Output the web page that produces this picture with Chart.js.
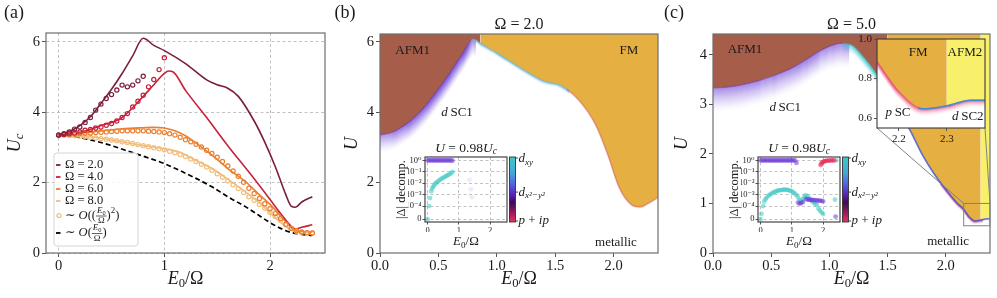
<!DOCTYPE html>
<html>
<head>
<meta charset="utf-8">
<script src="https://cdn.jsdelivr.net/npm/chart.js@4.4.1/dist/chart.umd.min.js"></script>
<style>
  html, body { margin: 0; padding: 0; background: #fff; }
  #fig { position: relative; width: 997px; height: 298px; overflow: hidden; background: #fff; }
  #fig canvas { position: absolute; }
</style>
</head>
<body>
<div id="fig"></div>
<script>
// ---------- panel (a): U_c against E0/Omega ----------
const omega2X = [0, 0.1, 0.2, 0.3, 0.4, 0.5, 0.6, 0.7, 0.8, 0.9, 1.0, 1.2, 1.4, 1.5, 1.6, 1.7, 1.85, 1.95, 2.05, 2.15, 2.2, 2.24, 2.3, 2.4]
const omega2Y = [3.35, 3.45, 3.62, 3.87, 4.25, 4.65, 5.1, 5.6, 6.1, 5.9, 5.75, 5.38, 4.92, 4.78, 4.68, 4.45, 3.75, 3.15, 2.45, 1.65, 1.33, 1.3, 1.45, 1.6]
const omega4X = [0, 0.2, 0.4, 0.6, 0.8, 0.9, 1.0, 1.04, 1.08, 1.2, 1.4, 1.6, 1.8, 2.0, 2.1, 2.2, 2.24, 2.3, 2.4]
const omega4Y = [3.35, 3.43, 3.62, 3.85, 4.45, 4.78, 5.1, 5.17, 5.15, 4.62, 3.85, 3.05, 2.3, 1.52, 1.12, 0.76, 0.68, 0.73, 0.8]
const omega6X = [0, 0.2, 0.4, 0.6, 0.8, 0.9, 1.0, 1.1, 1.2, 1.3, 1.45, 1.6, 1.77, 1.9, 2.0, 2.12, 2.23, 2.3, 2.4]
const omega6Y = [3.35, 3.4, 3.47, 3.53, 3.56, 3.57, 3.55, 3.47, 3.33, 3.12, 2.78, 2.4, 2.02, 1.65, 1.38, 0.98, 0.65, 0.61, 0.6]
const omega8X = [0, 0.2, 0.4, 0.6, 0.8, 1.0, 1.14, 1.3, 1.45, 1.6, 1.77, 1.9, 1.99, 2.12, 2.23, 2.3, 2.4]
const omega8Y = [3.35, 3.33, 3.26, 3.16, 3.05, 2.96, 2.87, 2.63, 2.4, 2.1, 1.73, 1.42, 1.17, 0.82, 0.62, 0.61, 0.6]
const firstOrderX = [0, 0.16, 0.32, 0.47, 0.63, 0.82, 1.0, 1.14, 1.3, 1.45, 1.6, 1.77, 1.9, 1.99, 2.1, 2.18, 2.3, 2.4]
const firstOrderY = [3.35, 3.3, 3.2, 3.08, 2.92, 2.73, 2.54, 2.35, 2.12, 1.88, 1.6, 1.31, 1.06, 0.88, 0.7, 0.6, 0.53, 0.5]
// second order markers, sampled on a common E0/Omega grid
const circX = [0, 0.05, 0.1, 0.15, 0.2, 0.25, 0.3, 0.35, 0.4, 0.45, 0.5, 0.55, 0.6, 0.65, 0.7, 0.75, 0.8, 0.85, 0.9, 0.95, 1.0, 1.05, 1.1, 1.15, 1.2, 1.25, 1.3, 1.35, 1.4, 1.45, 1.5, 1.55, 1.6, 1.65, 1.7, 1.75, 1.8, 1.85, 1.9, 1.95, 2.0, 2.05, 2.1, 2.15, 2.2, 2.25, 2.3, 2.35, 2.4]
const circ2Y = [3.35, 3.39, 3.44, 3.52, 3.58, 3.71, 3.85, 4.06, 4.23, 4.39, 4.5, 4.63, 4.77, 4.72, 4.77, 4.89, 5.02]
const circ4Y = [3.35, 3.37, 3.39, 3.41, 3.44, 3.49, 3.51, 3.55, 3.58, 3.63, 3.68, 3.75, 3.85, 3.96, 4.15, 4.31, 4.48, 4.72, 4.93, 5.21, 5.55]
const circ6Y = [3.35, 3.36, 3.37, 3.38, 3.39, 3.4, 3.41, 3.42, 3.43, 3.44, 3.45, 3.46, 3.47, 3.47, 3.47, 3.47, 3.47, 3.46, 3.45, 3.44, 3.42, 3.39, 3.35, 3.29, 3.22, 3.16, 3.09, 3.01, 2.92, 2.83, 2.72, 2.6, 2.47, 2.33, 2.18, 2.01, 1.84, 1.69, 1.55, 1.4, 1.26, 1.12, 0.98, 0.82, 0.7, 0.63, 0.6, 0.58, 0.57]
const circ8Y = [3.35, 3.35, 3.34, 3.33, 3.32, 3.31, 3.29, 3.27, 3.25, 3.23, 3.21, 3.19, 3.16, 3.14, 3.11, 3.08, 3.05, 3.02, 2.99, 2.96, 2.93, 2.89, 2.85, 2.8, 2.74, 2.67, 2.6, 2.52, 2.44, 2.35, 2.25, 2.15, 2.05, 1.94, 1.83, 1.72, 1.6, 1.5, 1.38, 1.27, 1.15, 1.04, 0.92, 0.8, 0.7, 0.62, 0.59, 0.57, 0.57]
const legendLabels = ['Ω = 2.0', 'Ω = 4.0', 'Ω = 6.0', 'Ω = 8.0']

// ---------- panel (b): phase boundary, Omega = 2 ----------
const phaseBX = [0, 0.1, 0.2, 0.3, 0.4, 0.5, 0.6, 0.7, 0.8, 0.86, 1.0, 1.2, 1.4, 1.55, 1.7, 1.85, 1.95, 2.05, 2.15, 2.23, 2.3, 2.38]
const phaseBY = [3.35, 3.42, 3.6, 3.86, 4.22, 4.65, 5.12, 5.62, 6.07, 5.95, 5.68, 5.26, 4.88, 4.75, 4.35, 3.62, 2.8, 1.85, 1.38, 1.31, 1.42, 1.58]
const afmFmB = 0.86

// ---------- panel (c): phase boundary, Omega = 5 ----------
const phaseCX = [0, 0.1, 0.2, 0.3, 0.4, 0.5, 0.6, 0.7, 0.8, 0.9, 1.0, 1.1, 1.15, 1.2, 1.3, 1.4, 1.5, 1.6, 1.7, 1.8, 1.9, 2.0, 2.1, 2.154, 2.171, 2.2, 2.25, 2.3, 2.35, 2.38]
const phaseCY = [3.33, 3.34, 3.37, 3.42, 3.48, 3.56, 3.65, 3.76, 3.9, 4.05, 4.17, 4.23, 4.22, 4.18, 3.93, 3.62, 3.25, 2.88, 2.45, 1.98, 1.6, 1.28, 1.0, 0.885, 0.825, 0.733, 0.647, 0.662, 0.69, 0.69]
const afmFmC = 1.5, fmAfm2C = 2.3
const zoomX = [2.154, 2.38], zoomY = [0.55, 1.0]

// ---------- insets: |Delta| decomposition at U = 0.98 U_c ----------
const bDx2X = [0, 0.05, 0.1, 0.15, 0.2, 0.25, 0.3, 0.35, 0.4, 0.45, 0.5, 0.55, 0.6, 0.65, 0.7, 0.75, 0.8]
const bDx2V = [1, 1, 1, 1, 1, 1, 1, 1, 1, 1, 1, 1, 1, 1, 1, 1, 0.95]
const bDxyX = [0, 0.05, 0.08, 0.12, 0.15, 0.18, 0.22, 0.26, 0.3, 0.35, 0.4, 0.45, 0.5, 0.55, 0.6, 0.65, 0.7, 0.75, 0.8]
const bDxyV = [0, 1e-4, 5e-4, 2e-3, 3.5e-3, 5e-3, 7e-3, 0.01, 0.012, 0.016, 0.02, 0.025, 0.03, 0.036, 0.043, 0.05, 0.06, 0.075, 0.1]
const bFaintX = [1.34, 1.38, 1.42]
const bFaintV = [0.02, 3e-3, 6e-4]

const cDx2X = [0, 0.05, 0.1, 0.15, 0.2, 0.25, 0.3, 0.35, 0.4, 0.45, 0.5, 0.55, 0.6, 0.65, 0.7, 0.75, 0.8, 0.85, 0.9, 0.95, 1.0, 1.05, 1.1, 1.15, 1.2, 1.25, 1.3, 1.35, 1.45, 1.5, 1.55, 1.6, 1.65, 1.7, 1.75, 1.8, 1.85, 1.9, 1.95, 2.0, 2.4]
const cDx2V = [1, 1, 1, 1, 1, 1, 1, 1, 1, 1, 1, 1, 1, 1, 1, 1, 1, 1, 1, 1, 1, 1, 1, 0.6, 2e-4, 1.6e-4, 1.8e-4, 2.2e-4, 4e-4, 3.8e-4, 3.6e-4, 3.5e-4, 3.4e-4, 3.3e-4, 3.2e-4, 3.1e-4, 3e-4, 3e-4, 2.8e-4, 2.6e-4, 0.2e-4]
const cDxyX = [0, 0.03, 0.08, 0.12, 0.16, 0.2, 0.25, 0.3, 0.35, 0.4, 0.45, 0.5, 0.55, 0.6, 0.65, 0.7, 0.75, 0.8, 0.85, 0.9, 0.95, 1.0, 1.05, 1.1, 1.15, 1.2, 1.25, 1.3, 1.35, 1.4, 1.45, 1.5, 1.55, 1.6, 1.65, 1.7, 1.75, 1.8, 1.85, 1.9, 1.95, 2.0, 2.38, 2.42]
const cDxyV = [0, 0.4e-4, 1e-4, 2.5e-4, 4e-4, 5.5e-4, 8e-4, 1e-3, 1.25e-3, 1.5e-3, 1.7e-3, 2e-3, 2.2e-3, 2.4e-3, 2.5e-3, 2.6e-3, 2.7e-3, 2.7e-3, 2.6e-3, 2.5e-3, 2.2e-3, 1.9e-3, 1.6e-3, 1.25e-3, 9e-4, 5.6e-4, 3.5e-4, 2.5e-4, 4e-4, 6.3e-4, 9e-4, 7e-4, 5e-4, 3.5e-4, 2.5e-4, 2e-4, 1.6e-4, 1.25e-4, 0.8e-4, 0.65e-4, 0.52e-4, 0.4e-4, 3.7e-4, 1]
const cPipX = [1.92, 1.95, 1.98, 2.02, 2.06, 2.1, 2.15, 2.2, 2.25, 2.3, 2.35]
const cPipV = [0.4, 0.55, 0.7, 0.8, 0.88, 0.92, 0.95, 0.97, 1, 1, 1]

// ---------- ticks ----------
const aTicksX = [0, 1, 2], aTicksY = [0, 2, 4, 6]
const phaseTicksX = [0, 0.5, 1, 1.5, 2]
const bTicksY = [0, 2, 4, 6], cTicksY = [0, 1, 2, 3, 4]
const zoomTicksX = [2.2, 2.3], zoomTicksY = [0.6, 0.8, 1.0]
const insetTicksX = [0, 1, 2]
const decompTicks = [0, 1e-4, 1e-3, 1e-2, 1e-1, 1]
const decompLabels = ['0', '10⁻⁴', '10⁻³', '10⁻²', '10⁻¹', '10⁰']

// ---------- look ----------
const SERIF = '"Liberation Serif", "DejaVu Serif", serif'
const INK = '#1a1a1a'
const OMEGA_COLORS = ['#7a1e3d', '#c8213b', '#ec7f2f', '#f1bd7d']
const AFM1 = '#a65d4a', FM = '#e5b041', AFM2 = '#f8f06a'
const PURPLE = 'rgba(112, 58, 214, 0.55)', CYAN = 'rgba(60, 200, 196, 0.55)', RED = 'rgba(232, 44, 88, 0.6)'

const fig = document.getElementById('fig')
const pts = (xs, ys) => ys.map((y, i) => ({x: xs[i], y}))
const between = (xs, ys, lo, hi) => pts(xs, ys).filter(p => p.x >= lo && p.x <= hi)
// symmetric-log style mapping used by the inset y axes
const symlog = v => v <= 0 ? 0 : v < 1e-4 ? 1.15 * v / 1e-4 : 5.15 + Math.log10(v)
const logPts = (xs, vs) => vs.map((v, i) => ({x: xs[i], y: symlog(v)}))

// rich text: runs of roman / italic / sub / sup / fractions
const R = t => ({t}), I = t => ({t, it: true})
const SUB = t => ({t, it: true, sub: true}), SUBR = t => ({t, sub: true}), SUP = t => ({t, sup: true})
const runFont = (p, size) => (p.it ? 'italic ' : '') + ((p.sub || p.sup) ? size * 0.7 : size).toFixed(1) + 'px ' + SERIF
function runWidth(ctx, parts, size) {
  let w = 0
  for (const p of parts) {
    if (p.frac) w += Math.max(runWidth(ctx, p.frac[0], size * 0.72), runWidth(ctx, p.frac[1], size * 0.72)) + 2
    else { ctx.font = runFont(p, size); w += ctx.measureText(p.t).width }
  }
  return w
}
function rich(ctx, parts, x, y, size, align = 'center', rot = 0, color = INK) {
  ctx.save()
  ctx.translate(x, y)
  if (rot) ctx.rotate(rot)
  const w = runWidth(ctx, parts, size)
  let cx = align === 'left' ? 0 : align === 'right' ? -w : -w / 2
  ctx.fillStyle = color; ctx.strokeStyle = color
  ctx.textAlign = 'left'; ctx.textBaseline = 'middle'
  for (const p of parts) {
    if (p.frac) {
      const s = size * 0.72
      const fw = Math.max(runWidth(ctx, p.frac[0], s), runWidth(ctx, p.frac[1], s)) + 2
      rich(ctx, p.frac[0], cx + fw / 2, -s * 0.55, s, 'center', 0, color)
      rich(ctx, p.frac[1], cx + fw / 2, s * 0.62, s, 'center', 0, color)
      ctx.lineWidth = 0.7
      ctx.beginPath(); ctx.moveTo(cx, 0.5); ctx.lineTo(cx + fw, 0.5); ctx.stroke()
      cx += fw
    } else {
      ctx.font = runFont(p, size)
      ctx.fillText(p.t, cx, p.sub ? size * 0.28 : p.sup ? -size * 0.36 : 0)
      cx += ctx.measureText(p.t).width
    }
  }
  ctx.restore()
}
const E0_OMEGA = [I('E'), SUBR('0'), R('/Ω')]

function axis(min, max, ticks, o = {}) {
  const labels = o.labels
  return {
    type: 'linear', min, max,
    afterBuildTicks: s => { s.ticks = ticks.map(value => ({value})) },
    ticks: {
      font: {family: SERIF, size: o.size || 14.5}, color: INK, padding: o.pad ?? 2,
      autoSkip: false, maxRotation: 0,
      callback: (v, i) => labels ? labels[i] : (o.fmt ? o.fmt(v) : String(v))
    },
    grid: {display: true, drawOnChartArea: !!o.grid, color: '#b4b4b4', lineWidth: 0.8,
      tickLength: o.tick || 4, tickColor: '#555', tickWidth: 1},
    border: {display: false, dash: o.grid ? [3, 2.5] : []}
  }
}

function mount(cv, box, yW, xH, config) {
  const c = document.createElement('canvas')
  c.width = cv.w; c.height = cv.h
  Object.assign(c.style, {left: cv.x + 'px', top: cv.y + 'px', width: cv.w + 'px', height: cv.h + 'px'})
  fig.appendChild(c)
  const o = config.options
  Object.assign(o, {responsive: false, animation: false, devicePixelRatio: 1, events: []})
  o.layout = {padding: {left: box.l - cv.x - yW, top: box.t - cv.y, right: cv.x + cv.w - box.r, bottom: cv.y + cv.h - box.b - xH}}
  o.scales.x.afterFit = s => { s.height = xH }
  o.scales.y.afterFit = s => { s.width = yW }
  o.plugins = Object.assign({legend: {display: false}, tooltip: {enabled: false}}, o.plugins || {})
  return new Chart(c, config)
}

const frame = (color = '#6e6e6e', width = 1.2) => ({
  id: 'frame',
  afterDraw(chart) {
    const a = chart.chartArea, ctx = chart.ctx
    ctx.save(); ctx.strokeStyle = color; ctx.lineWidth = width
    ctx.strokeRect(a.left, a.top, a.right - a.left, a.bottom - a.top)
    ctx.restore()
  }
})
const whiteArea = {
  id: 'whiteArea',
  beforeDraw(chart) {
    const a = chart.chartArea, ctx = chart.ctx
    ctx.save(); ctx.fillStyle = '#fff'; ctx.fillRect(a.left, a.top, a.right - a.left, a.bottom - a.top); ctx.restore()
  }
}
// fading coloured band hanging below the phase boundary
function bands(refIndex, list) {
  return {
    id: 'bands',
    afterDatasetsDraw(chart) {
      const el = chart.getDatasetMeta(refIndex).data
      const {ctx, chartArea: a, scales: {x}} = chart
      for (const b of list) {
        const x0 = Math.max(a.left, x.getPixelForValue(b.from)), x1 = Math.min(a.right, x.getPixelForValue(b.to))
        if (x1 <= x0) continue
        ctx.save()
        ctx.beginPath(); ctx.rect(x0, a.top, x1 - x0, a.bottom - a.top); ctx.clip()
        ctx.strokeStyle = b.color; ctx.lineWidth = b.width || 1.5
        for (let k = b.depth; k >= 0; k--) {
          ctx.globalAlpha = b.alpha * Math.pow(1 - k / (b.depth + 1), b.pow || 2)
          ctx.beginPath()
          el.forEach((p, i) => {
            if (!i) return ctx.moveTo(p.x, p.y + k)
            const q = el[i - 1]
            if (q.cp2x != null && p.cp1x != null) ctx.bezierCurveTo(q.cp2x, q.cp2y + k, p.cp1x, p.cp1y + k, p.x, p.y + k)
            else ctx.lineTo(p.x, p.y + k)
          })
          ctx.stroke()
        }
        ctx.restore()
      }
    }
  }
}

const lineDs = (data, color, extra) => Object.assign({data, borderColor: color, borderWidth: 1.6, pointRadius: 0, fill: false, cubicInterpolationMode: 'monotone'}, extra)
const ringDs = (data, color) => ({data, showLine: false, pointRadius: 2.1, pointBorderWidth: 1.2, pointBorderColor: color, pointBackgroundColor: 'rgba(0,0,0,0)'})
const fillDs = (data, color) => ({data, fill: 'end', backgroundColor: color, borderColor: color, borderWidth: 0.5, pointRadius: 0, cubicInterpolationMode: 'monotone'})
const refDs = data => ({data, fill: false, borderColor: 'rgba(0,0,0,0)', borderWidth: 1, pointRadius: 0, cubicInterpolationMode: 'monotone'})
const dotDs = (data, color) => ({data, showLine: false, pointRadius: 2.4, pointBorderWidth: 0, pointBackgroundColor: color})

// ================= panel (a) =================
mount({x: 0, y: 0, w: 345, h: 298}, {l: 46, t: 33, r: 325, b: 253}, 28, 18, {
  type: 'line',
  data: {datasets: [
    ringDs(pts(circX, circ2Y), OMEGA_COLORS[0]),
    ringDs(pts(circX, circ4Y), OMEGA_COLORS[1]),
    ringDs(pts(circX, circ6Y), OMEGA_COLORS[2]),
    ringDs(pts(circX, circ8Y), OMEGA_COLORS[3]),
    lineDs(pts(omega2X, omega2Y), OMEGA_COLORS[0]),
    lineDs(pts(omega4X, omega4Y), OMEGA_COLORS[1]),
    lineDs(pts(omega6X, omega6Y), OMEGA_COLORS[2]),
    lineDs(pts(omega8X, omega8Y), OMEGA_COLORS[3]),
    lineDs(pts(firstOrderX, firstOrderY), '#000', {borderDash: [5, 3], borderWidth: 1.7})
  ]},
  options: {scales: {x: axis(-0.12, 2.52, aTicksX, {grid: true, pad: 0}), y: axis(0, 6.25, aTicksY, {grid: true})}},
  plugins: [frame(), {
    id: 'decoA',
    afterDraw(chart) {
      const ctx = chart.ctx, a = chart.chartArea
      rich(ctx, [R('(a)')], 14, 13, 18)
      rich(ctx, [I('U'), SUB('c')], 15, (a.top + a.bottom) / 2, 18, 'center', -Math.PI / 2)
      rich(ctx, E0_OMEGA, (a.left + a.right) / 2, 279, 18)
      // legend
      ctx.save()
      ctx.fillStyle = 'rgba(255,255,255,0.85)'; ctx.strokeStyle = '#d4d4d4'; ctx.lineWidth = 1
      ctx.beginPath(); ctx.roundRect(54, 153, 84, 93, 3); ctx.fill(); ctx.stroke()
      const rows = [165, 177, 189, 201, 215.5, 233]
      OMEGA_COLORS.forEach((c, i) => {
        ctx.strokeStyle = c; ctx.lineWidth = 1.8
        ctx.beginPath(); ctx.moveTo(56, rows[i]); ctx.lineTo(60.5, rows[i]); ctx.stroke()
        rich(ctx, [R(legendLabels[i])], 65, rows[i], 12.5, 'left')
      })
      ctx.strokeStyle = OMEGA_COLORS[3]; ctx.lineWidth = 1.2
      ctx.beginPath(); ctx.arc(59, rows[4], 2, 0, Math.PI * 2); ctx.stroke()
      const frac = {frac: [[I('E'), SUBR('0')], [R('Ω')]]}
      rich(ctx, [R('∼ '), I('O'), R('(('), frac, R(')'), SUP('2'), R(')')], 65, rows[4], 12.5, 'left')
      ctx.strokeStyle = '#000'; ctx.lineWidth = 1.8
      ctx.beginPath(); ctx.moveTo(56, rows[5]); ctx.lineTo(60.5, rows[5]); ctx.stroke()
      rich(ctx, [R('∼ '), I('O'), R('('), frac, R(')')], 65, rows[5], 12.5, 'left')
      ctx.restore()
    }
  }]
})

// ================= panel (b) =================
mount({x: 330, y: 0, w: 335, h: 298}, {l: 380, t: 34, r: 658, b: 253}, 24, 18, {
  type: 'line',
  data: {datasets: [
    refDs(pts(phaseBX, phaseBY)),
    fillDs(between(phaseBX, phaseBY, 0, afmFmB), AFM1),
    fillDs(between(phaseBX, phaseBY, afmFmB, 2.4), FM)
  ]},
  options: {scales: {
    x: axis(0, 2.38, phaseTicksX, {fmt: v => v.toFixed(1), pad: 0}),
    y: axis(0, 6.22, bTicksY)
  }},
  plugins: [bands(0, [
    {from: 0, to: 0.82, color: '#5a2ad2', depth: 18, alpha: 0.45, pow: 1.6},
    {from: 0.78, to: 1.62, color: '#6cb6d8', depth: 3, alpha: 0.7},
    {from: 1.6, to: 2.4, color: '#c84070', depth: 1, alpha: 0.35}
  ]), frame(), {
    id: 'decoB',
    afterDraw(chart) {
      const ctx = chart.ctx, a = chart.chartArea, {x, y} = chart.scales
      rich(ctx, [R('(b)')], 15, 13, 18)
      rich(ctx, [R('Ω = 2.0')], (a.left + a.right) / 2, 25, 16)
      rich(ctx, [I('U')], 22, (a.top + a.bottom) / 2, 18, 'center', -Math.PI / 2)
      rich(ctx, E0_OMEGA, (a.left + a.right) / 2, 279, 18)
      rich(ctx, [R('AFM1')], x.getPixelForValue(0.28), y.getPixelForValue(5.76), 13)
      rich(ctx, [R('FM')], x.getPixelForValue(2.13), y.getPixelForValue(5.76), 13)
      rich(ctx, [I('d'), R('\u2009SC1')], x.getPixelForValue(0.66), y.getPixelForValue(4.0), 13)
      rich(ctx, [R('metallic')], x.getPixelForValue(2.02), y.getPixelForValue(0.3), 13)
    }
  }]
})

// ================= panel (c) =================
const ZBOX = {l: 877, t: 39, r: 985, b: 128}
mount({x: 660, y: 0, w: 337, h: 298}, {l: 713, t: 34, r: 990, b: 253}, 24, 18, {
  type: 'line',
  data: {datasets: [
    refDs(pts(phaseCX, phaseCY)),
    fillDs(between(phaseCX, phaseCY, 0, afmFmC), AFM1),
    fillDs(between(phaseCX, phaseCY, afmFmC, fmAfm2C), FM),
    fillDs(between(phaseCX, phaseCY, fmAfm2C, 2.4), AFM2)
  ]},
  options: {scales: {
    x: axis(0, 2.38, phaseTicksX, {fmt: v => v.toFixed(1), pad: 0}),
    y: axis(0, 4.42, cTicksY)
  }},
  plugins: [bands(0, [
    {from: 0, to: 1.17, color: '#5a2ad2', depth: 24, alpha: 0.42, pow: 1.6},
    {from: 1.12, to: 1.55, color: '#3cc4d0', depth: 9, alpha: 0.6},
    {from: 1.95, to: 2.32, color: '#e0306a', depth: 3, alpha: 0.75},
    {from: 1.5, to: 2.4, color: '#4a62d8', depth: 1, alpha: 0.85}
  ]), frame(), {
    id: 'decoC',
    afterDraw(chart) {
      const ctx = chart.ctx, a = chart.chartArea, {x, y} = chart.scales
      rich(ctx, [R('(c)')], 14, 13, 18)
      rich(ctx, [R('Ω = 5.0')], (a.left + a.right) / 2, 25, 16)
      rich(ctx, [I('U')], 22, (a.top + a.bottom) / 2, 18, 'center', -Math.PI / 2)
      rich(ctx, E0_OMEGA, (a.left + a.right) / 2, 279, 18)
      rich(ctx, [R('AFM1')], x.getPixelForValue(0.275), y.getPixelForValue(4.1), 13)
      rich(ctx, [I('d'), R('\u2009SC1')], x.getPixelForValue(0.62), y.getPixelForValue(2.93), 13)
      rich(ctx, [R('metallic')], x.getPixelForValue(2.02), y.getPixelForValue(0.23), 13)
      // zoom rectangle and connectors
      const rx0 = x.getPixelForValue(zoomX[0]), rx1 = x.getPixelForValue(zoomX[1])
      const ry0 = y.getPixelForValue(zoomY[0]), ry1 = y.getPixelForValue(zoomY[1])
      const ox = 660
      ctx.save(); ctx.strokeStyle = '#808080'; ctx.lineWidth = 1
      ctx.strokeRect(rx0, ry1, rx1 - rx0, ry0 - ry1)
      ctx.beginPath()
      ctx.moveTo(ZBOX.l - ox, ZBOX.b); ctx.lineTo(rx0, ry1)
      ctx.moveTo(ZBOX.r - ox, ZBOX.b); ctx.lineTo(rx1, ry1)
      ctx.stroke(); ctx.restore()
    }
  }]
})

// ================= zoomed inset of (c) =================
mount({x: 850, y: 30, w: 147, h: 125}, ZBOX, 25, 16, {
  type: 'line',
  data: {datasets: [
    refDs(pts(phaseCX, phaseCY)),
    fillDs(between(phaseCX, phaseCY, afmFmC, fmAfm2C), FM),
    fillDs(between(phaseCX, phaseCY, fmAfm2C, 2.4), AFM2)
  ]},
  options: {scales: {
    x: axis(zoomX[0], zoomX[1], zoomTicksX, {size: 11, fmt: v => v.toFixed(1), tick: 3}),
    y: axis(zoomY[0], zoomY[1], zoomTicksY, {size: 11, fmt: v => v.toFixed(1), tick: 3})
  }},
  plugins: [whiteArea, bands(0, [
    {from: 2.1, to: 2.4, color: '#e8306a', depth: 7, alpha: 0.55},
    {from: 2.24, to: 2.4, color: '#3a8ad8', depth: 1, alpha: 0.9}
  ]), frame('#3a3a3a', 1.1), {
    id: 'decoZ',
    afterDraw(chart) {
      const ctx = chart.ctx, {x, y} = chart.scales
      rich(ctx, [R('FM')], x.getPixelForValue(2.24), y.getPixelForValue(0.93), 13)
      rich(ctx, [R('AFM2')], x.getPixelForValue(2.338), y.getPixelForValue(0.93), 13)
      rich(ctx, [I('p'), R('\u2009SC')], x.getPixelForValue(2.198), y.getPixelForValue(0.626), 13)
      rich(ctx, [I('d'), R('\u2009SC2')], x.getPixelForValue(2.344), y.getPixelForValue(0.606), 13)
    }
  }]
})

// ================= decomposition insets =================
function decompInset(cvX, boxL, datasets) {
  const box = {l: boxL, t: 157, r: boxL + 82, b: 222}
  return mount({x: cvX, y: 140, w: 175, h: 115}, box, 17, 10, {
    type: 'line',
    data: {datasets},
    options: {scales: {
      x: axis(-0.08, 2.54, insetTicksX, {size: 8.5, tick: 2.5, pad: 1, grid: true}),
      y: axis(-0.25, 5.45, decompTicks.map(symlog), {size: 8.5, tick: 2.5, pad: 1, grid: true, labels: decompLabels})
    }},
    plugins: [whiteArea, frame('#333', 1.1), {
      id: 'decoInset',
      afterDraw(chart) {
        const ctx = chart.ctx, a = chart.chartArea
        const mid = (a.left + a.right) / 2
        rich(ctx, [I('U'), R(' = 0.98'), I('U'), SUB('c')], mid, a.top - 9, 13.5)
        rich(ctx, E0_OMEGA, mid, a.bottom + 20, 13)
        rich(ctx, [R('|Δ| decomp.')], a.left - 23, (a.top + a.bottom) / 2, 12.5, 'center', -Math.PI / 2)
        // colour bar
        const cx = a.right + 2.5, w = 6, h = a.bottom - a.top
        const g = ctx.createLinearGradient(0, a.top, 0, a.bottom)
        g.addColorStop(0, '#3ccac2'); g.addColorStop(0.25, '#46a6d8'); g.addColorStop(0.42, '#5162e0')
        g.addColorStop(0.58, '#5a22b8'); g.addColorStop(0.7, '#3a0c52'); g.addColorStop(0.85, '#961a5a'); g.addColorStop(1, '#ec3060')
        ctx.save()
        ctx.fillStyle = g; ctx.fillRect(cx, a.top, w, h)
        ctx.strokeStyle = '#333'; ctx.lineWidth = 0.9; ctx.strokeRect(cx, a.top, w, h)
        const marks = [a.top + 1, a.top + 0.54 * h, a.bottom - 1]
        ctx.beginPath()
        marks.forEach(m => { ctx.moveTo(cx + w, m); ctx.lineTo(cx + w + 2.5, m) })
        ctx.stroke(); ctx.restore()
        rich(ctx, [I('d'), SUB('xy')], cx + w + 3, marks[0] + 1, 13, 'left')
        rich(ctx, [I('d'), SUB('x²−y²')], cx + w + 3, marks[1], 13, 'left')
        rich(ctx, [I('p'), R(' + '), I('ip')], cx + w + 3, marks[2], 13, 'left')
      }
    }]
  })
}

decompInset(390, 425, [
  dotDs(logPts(bDx2X, bDx2V), PURPLE),
  dotDs(logPts(bDxyX, bDxyV), CYAN),
  dotDs(logPts(bFaintX, bFaintV), 'rgba(112, 58, 214, 0.1)')
])
decompInset(723, 758, [
  dotDs(logPts(cPipX, cPipV), RED),
  dotDs(logPts(cDx2X, cDx2V), PURPLE),
  dotDs(logPts(cDxyX, cDxyV), CYAN)
])
</script>
</body>
</html>
